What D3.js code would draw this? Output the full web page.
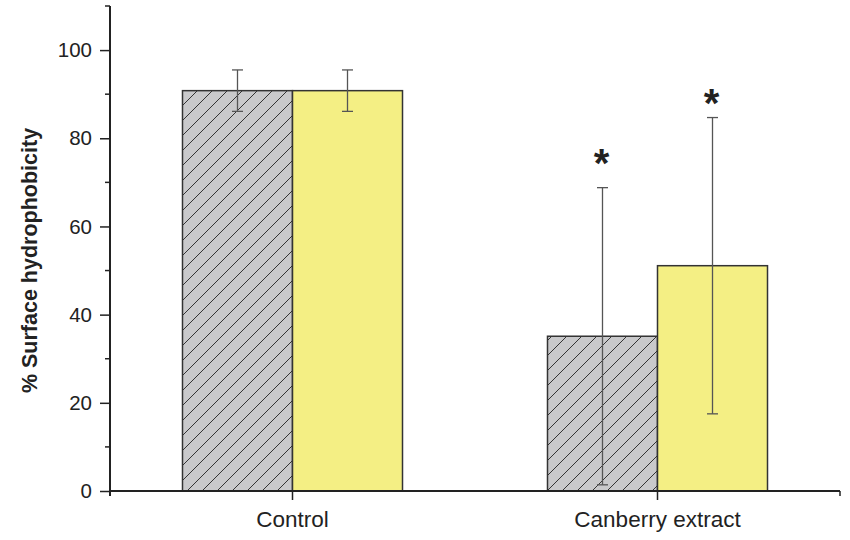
<!DOCTYPE html>
<html>
<head>
<meta charset="utf-8">
<script src="https://cdn.jsdelivr.net/npm/d3@7"></script>
<style>
  html, body { margin: 0; padding: 0; background: #fff; }
  svg { display: block; }
  text { font-family: "Liberation Sans", Arial, Helvetica, sans-serif; fill: #222; }
</style>
</head>
<body>
<svg id="chart" width="850" height="540"></svg>
<script>
// Treatment groups and the two strains measured in each
const categories = ["Control", "Canberry extract"];
const series = ["strainA", "strainB"];
// Mean % surface hydrophobicity and standard deviation, per group
const meanA = [90.8, 35.1];
const errA  = [4.7, 33.7];
const meanB = [90.8, 51.1];
const errB  = [4.7, 33.6];
// Significance marks: group index, strain and the level the star sits at
const starGroup  = [1, 1];
const starSeries = ["strainA", "strainB"];
const starLevel  = [76.4, 90];
const yTicks = [0, 20, 40, 60, 80, 100];
const yLabel = "% Surface hydrophobicity";

const svg = d3.select("#chart");
const margin = { left: 110, right: 10, top: 6, bottom: 49 };
const W = 850, H = 540;

const y = d3.scaleLinear().domain([0, 110]).range([H - margin.bottom, margin.top]);
const x0 = d3.scaleBand().domain(categories).range([margin.left, 840]).padding(0);
const x1 = d3.scaleBand().domain(series).range([0, x0.bandwidth()])
  .paddingInner(0).paddingOuter(0.659);

const fills = { strainA: "url(#hatch)", strainB: "#f4ef84" };

// Diagonal hatch used by the first strain
const defs = svg.append("defs");
const pat = defs.append("pattern")
  .attr("id", "hatch").attr("patternUnits", "userSpaceOnUse")
  .attr("width", 15).attr("height", 15).attr("x", 3).attr("y", 0);
pat.append("rect").attr("width", 15).attr("height", 15).attr("fill", "#c9c9cb");
pat.append("path")
  .attr("d", "M-3.75,3.75 L3.75,-3.75 M0,15 L15,0 M11.25,18.75 L18.75,11.25")
  .attr("stroke", "#333").attr("stroke-width", 1);

const rows = [];
categories.forEach((c, i) => {
  rows.push({ cat: c, s: "strainA", v: meanA[i], e: errA[i] });
  rows.push({ cat: c, s: "strainB", v: meanB[i], e: errB[i] });
});

// Bars
svg.append("g").selectAll("rect").data(rows).join("rect")
  .attr("x", d => x0(d.cat) + x1(d.s))
  .attr("y", d => y(d.v))
  .attr("width", x1.bandwidth())
  .attr("height", d => y(0) - y(d.v))
  .attr("fill", d => fills[d.s])
  .attr("stroke", "#333").attr("stroke-width", 1.5);

// Error bars
const cap = 5.5;
const eb = svg.append("g").attr("stroke", "#555").attr("stroke-width", 1.3).attr("fill", "none");
rows.forEach(d => {
  const cx = x0(d.cat) + x1(d.s) + x1.bandwidth() / 2;
  const yt = y(d.v + d.e), yb = y(d.v - d.e);
  eb.append("line").attr("x1", cx).attr("x2", cx).attr("y1", yt).attr("y2", yb);
  eb.append("line").attr("x1", cx - cap).attr("x2", cx + cap).attr("y1", yt).attr("y2", yt);
  eb.append("line").attr("x1", cx - cap).attr("x2", cx + cap).attr("y1", yb).attr("y2", yb);
});

// Significance asterisks
const starSize = 40;
starGroup.forEach((g, i) => {
  const cx = x0(categories[g]) + x1(starSeries[i]) + x1.bandwidth() / 2;
  svg.append("text")
    .attr("x", cx - 1).attr("y", y(starLevel[i]) + starSize * 0.57)
    .attr("text-anchor", "middle")
    .attr("font-size", starSize).attr("font-weight", "bold")
    .text("*");
});

// Y axis with major and minor ticks
const yAxis = svg.append("g").attr("transform", `translate(${margin.left},0)`);
yAxis.call(d3.axisLeft(y).tickValues(yTicks).tickSize(10).tickPadding(8))
  .call(g => g.select(".domain").remove());
yAxis.selectAll(".tick line").attr("stroke", "#222").attr("stroke-width", 1.5);
yAxis.selectAll(".tick text").attr("font-size", 20.5).attr("fill", "#222")
  .attr("font-family", "\"Liberation Sans\", Arial, sans-serif");
yAxis.append("g").selectAll("line").data(d3.range(10, 111, 20)).join("line")
  .attr("x1", -5).attr("x2", 0).attr("y1", d => y(d)).attr("y2", d => y(d))
  .attr("stroke", "#222").attr("stroke-width", 1.5);
yAxis.append("line").attr("x1", 0).attr("x2", 0)
  .attr("y1", y(0) + 5).attr("y2", y(110))
  .attr("stroke", "#222").attr("stroke-width", 2);

// X axis: category ticks plus short end ticks
const xAxis = svg.append("g").attr("transform", `translate(0,${y(0)})`);
xAxis.call(d3.axisBottom(x0).tickSize(9).tickPadding(11))
  .call(g => g.select(".domain").remove());
xAxis.selectAll(".tick line").attr("stroke", "#222").attr("stroke-width", 1.5);
xAxis.selectAll(".tick text").attr("font-size", 22.5).attr("fill", "#222")
  .attr("font-family", "\"Liberation Sans\", Arial, sans-serif");
xAxis.append("line").attr("x1", margin.left).attr("x2", 840).attr("y1", 0).attr("y2", 0)
  .attr("stroke", "#222").attr("stroke-width", 2);
xAxis.append("line").attr("x1", 840).attr("x2", 840).attr("y1", 0).attr("y2", 5)
  .attr("stroke", "#222").attr("stroke-width", 1.5);

// Y axis title
svg.append("text")
  .attr("transform", `translate(37,${(y(0) + y(110)) / 2 + 12}) rotate(-90)`)
  .attr("text-anchor", "middle")
  .attr("font-size", 21.5).attr("font-weight", "bold")
  .text(yLabel);
</script>
</body>
</html>
